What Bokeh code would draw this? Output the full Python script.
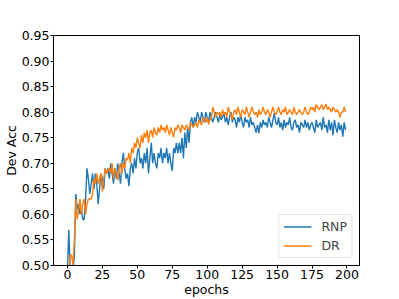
from bokeh.plotting import figure
from bokeh.models import Range1d, FixedTicker, PrintfTickFormatter, Legend, LegendItem
from bokeh.embed import file_html
from bokeh.resources import INLINE

epochs = list(range(200))

rnp = [
    0.49, 0.57, 0.49, 0.48, 0.49, 0.52, 0.64, 0.61, 0.62, 0.60,
    0.61, 0.59, 0.59, 0.63, 0.69, 0.67, 0.64, 0.66, 0.68, 0.65,
    0.68, 0.66, 0.62, 0.65, 0.68, 0.67, 0.65, 0.69, 0.68, 0.69,
    0.67, 0.70, 0.68, 0.66, 0.69, 0.67, 0.70, 0.68, 0.66, 0.70,
    0.72, 0.69, 0.67, 0.68, 0.655, 0.69, 0.70, 0.68, 0.71, 0.69,
    0.72, 0.73, 0.70, 0.71, 0.69, 0.72, 0.70, 0.73, 0.68, 0.71,
    0.74, 0.70, 0.72, 0.70, 0.69, 0.72, 0.71, 0.73, 0.70, 0.72,
    0.71, 0.73, 0.70, 0.72, 0.70, 0.685, 0.73, 0.72, 0.74, 0.72,
    0.74, 0.72, 0.75, 0.71, 0.76, 0.73, 0.77, 0.74, 0.78, 0.79,
    0.77, 0.79, 0.78, 0.80, 0.79, 0.78, 0.80, 0.79, 0.78, 0.80,
    0.79, 0.78, 0.80, 0.79, 0.78, 0.79, 0.80, 0.79, 0.78, 0.795,
    0.785, 0.79, 0.80, 0.78, 0.79, 0.775, 0.79, 0.80, 0.78, 0.79,
    0.785, 0.77, 0.79, 0.78, 0.795, 0.78, 0.77, 0.79, 0.78, 0.785,
    0.77, 0.79, 0.775, 0.78, 0.77, 0.76, 0.775, 0.759, 0.78, 0.77,
    0.785, 0.775, 0.78, 0.77, 0.79, 0.78, 0.77, 0.785, 0.798, 0.78,
    0.775, 0.79, 0.77, 0.78, 0.765, 0.785, 0.77, 0.78, 0.775, 0.79,
    0.77, 0.765, 0.78, 0.785, 0.77, 0.775, 0.76, 0.78, 0.775, 0.77,
    0.785, 0.77, 0.78, 0.765, 0.775, 0.78, 0.77, 0.76, 0.785, 0.77,
    0.775, 0.78, 0.765, 0.79, 0.77, 0.775, 0.76, 0.785, 0.765, 0.78,
    0.755, 0.785, 0.77, 0.76, 0.78, 0.765, 0.775, 0.752, 0.78, 0.765,
]

dr = [
    0.48, 0.49, 0.52, 0.52, 0.50, 0.55, 0.63, 0.59, 0.61, 0.63,
    0.60, 0.62, 0.63, 0.60, 0.62, 0.63, 0.63, 0.63, 0.64, 0.67,
    0.66, 0.68, 0.66, 0.67, 0.68, 0.645, 0.67, 0.69, 0.68, 0.687,
    0.69, 0.68, 0.70, 0.67, 0.69, 0.68, 0.667, 0.69, 0.70, 0.68,
    0.70, 0.69, 0.71, 0.706, 0.72, 0.70, 0.73, 0.72, 0.74, 0.73,
    0.75, 0.74, 0.73, 0.755, 0.74, 0.76, 0.75, 0.765, 0.74, 0.76,
    0.765, 0.75, 0.77, 0.76, 0.755, 0.77, 0.76, 0.775, 0.765, 0.77,
    0.76, 0.775, 0.765, 0.755, 0.77, 0.76, 0.751, 0.77, 0.765, 0.775,
    0.77, 0.76, 0.775, 0.77, 0.765, 0.775, 0.77, 0.765, 0.78, 0.775,
    0.77, 0.775, 0.78, 0.77, 0.785, 0.78, 0.775, 0.79, 0.785, 0.78,
    0.79, 0.776, 0.785, 0.79, 0.81, 0.80, 0.79, 0.80, 0.795, 0.80,
    0.79, 0.805, 0.795, 0.80, 0.79, 0.81, 0.80, 0.795, 0.785, 0.80,
    0.805, 0.795, 0.81, 0.80, 0.79, 0.805, 0.80, 0.795, 0.81, 0.80,
    0.79, 0.80, 0.81, 0.80, 0.795, 0.80, 0.79, 0.805, 0.795, 0.80,
    0.81, 0.80, 0.795, 0.805, 0.80, 0.79, 0.80, 0.81, 0.80, 0.795,
    0.80, 0.81, 0.80, 0.795, 0.805, 0.80, 0.81, 0.795, 0.80, 0.805,
    0.80, 0.795, 0.81, 0.80, 0.795, 0.80, 0.805, 0.80, 0.795, 0.80,
    0.81, 0.80, 0.795, 0.80, 0.81, 0.805, 0.81, 0.80, 0.815, 0.81,
    0.805, 0.81, 0.815, 0.805, 0.81, 0.816, 0.805, 0.81, 0.805, 0.80,
    0.81, 0.805, 0.80, 0.805, 0.80, 0.79, 0.80, 0.80, 0.81, 0.80,
]

x_ticks = [0, 25, 50, 75, 100, 125, 150, 175, 200]
y_ticks = [0.50, 0.55, 0.60, 0.65, 0.70, 0.75, 0.80, 0.85, 0.90, 0.95]

FONT = "DejaVu Sans"
FS = "12.5px"

p = figure(width=399, height=299, output_backend="svg", toolbar_location=None,
           x_range=Range1d(-9.95, 208.95), y_range=Range1d(0.5, 0.95),
           min_border_left=10, min_border_right=40, min_border_top=35,
           min_border_bottom=25)

p.background_fill_color = "white"
p.border_fill_color = "white"
p.outline_line_color = "black"
p.outline_line_width = 1
p.grid.visible = False

r1 = p.line(epochs, rnp, line_color="#1f77b4", line_width=1.4)
r2 = p.line(epochs, dr, line_color="#ff7f0e", line_width=1.4)

p.xaxis.ticker = FixedTicker(ticks=x_ticks)
p.yaxis.ticker = FixedTicker(ticks=y_ticks)
p.yaxis.formatter = PrintfTickFormatter(format="%.2f")
p.xaxis.axis_label = "epochs"
p.yaxis.axis_label = "Dev Acc"

for ax in (p.xaxis, p.yaxis):
    ax.major_label_text_font = FONT
    ax.major_label_text_font_size = FS
    ax.major_label_text_color = "black"
    ax.axis_label_text_font = FONT
    ax.axis_label_text_font_size = FS
    ax.axis_label_text_font_style = "normal"
    ax.axis_label_text_color = "black"
    ax.axis_label_standoff = 0
    ax.major_label_standoff = 1
    ax.major_tick_out = 3
    ax.major_tick_in = 0
    ax.minor_tick_out = 0
    ax.minor_tick_in = 0
    ax.major_tick_line_color = "black"
    ax.axis_line_color = "black"

legend = Legend(items=[LegendItem(label="RNP", renderers=[r1]),
                       LegendItem(label="DR", renderers=[r2])],
                location="bottom_right")
legend.label_text_font = FONT
legend.label_text_font_size = FS
legend.border_line_color = "#cccccc"
legend.border_line_width = 1
legend.background_fill_alpha = 0.8
legend.margin = 7
legend.padding = 4
legend.spacing = 4
legend.glyph_width = 28
legend.glyph_height = 15
legend.label_standoff = 10
legend.label_height = 15
p.add_layout(legend)

open("out.html", "w").write(file_html(p, INLINE))
